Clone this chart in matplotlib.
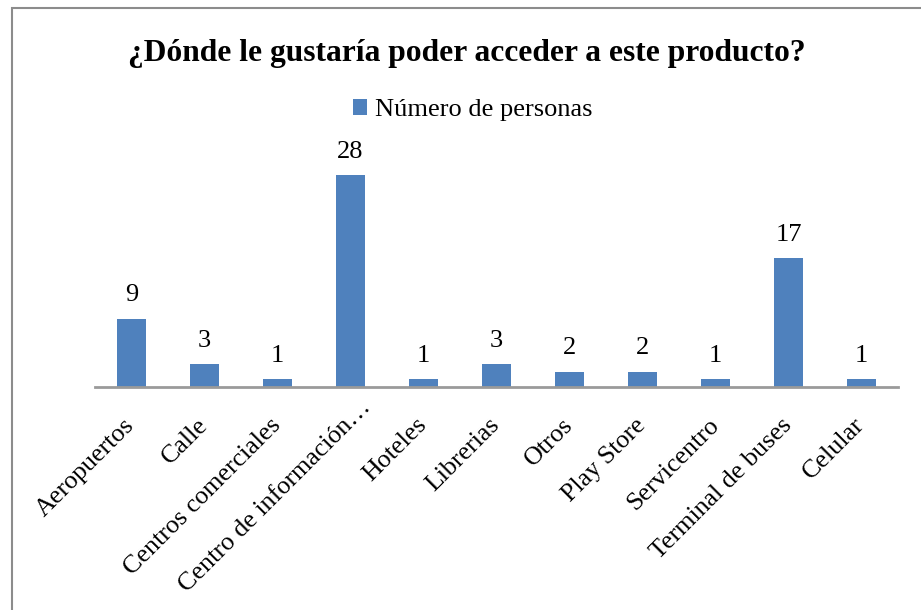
import matplotlib
matplotlib.use("Agg")
import matplotlib.pyplot as plt
from matplotlib.patches import Rectangle
from matplotlib.transforms import ScaledTranslation
import math

categories = ["Aeropuertos", "Calle", "Centros comerciales", "Centro de información…",
              "Hoteles", "Librerias", "Otros", "Play Store", "Servicentro",
              "Terminal de buses", "Celular"]
values = [9, 3, 1, 28, 1, 3, 2, 2, 1, 17, 1]
series_name = "Número de personas"
title = "¿Dónde le gustaría poder acceder a este producto?"

plt.rcParams['font.family'] = ['Liberation Serif', 'DejaVu Serif']

fig = plt.figure(figsize=(9.21, 6.10), dpi=100)
fig.patches.append(Rectangle((12/921, -0.1), 1.0, 1 - 8/610 + 0.1, transform=fig.transFigure,
                             fill=False, edgecolor='#8c8c8c', linewidth=1.5))

ax = fig.add_axes([95/921, 1 - 387/610, (898-95)/921, (387-160)/610])
x = list(range(len(categories)))
bars = ax.bar(x, values, width=0.4, color='#4F81BD', label=series_name)
ax.set_xlim(-0.5, len(categories) - 0.5)
ax.set_ylim(0, 30)
for xi, v in zip(x, values):
    ax.annotate(str(v), (xi, v), xytext=(0, 9), textcoords='offset points',
                ha='center', va='bottom', fontsize=19)

ax.set_xticks(x)
ax.set_xticklabels([])
ax.tick_params(axis='x', length=0)
fs = 18.7
for xi, name in zip(x, categories):
    dx, dy = -8, -27
    if name.endswith("…"):
        # Excel lets the truncation ellipsis overflow past the anchor point
        w = fs * 100 / 72 * 0.95
        dx += w * math.cos(math.radians(45))
        dy += w * math.sin(math.radians(45))
    tr = ax.get_xaxis_transform() + ScaledTranslation(dx/100, dy/100, fig.dpi_scale_trans)
    ax.text(xi, 0, name, transform=tr, rotation=45, ha='right', va='top',
            rotation_mode='anchor', fontsize=fs, clip_on=False)
ax.set_yticks([])
for s in ['top', 'right', 'left']:
    ax.spines[s].set_visible(False)
ax.spines['bottom'].set_color('#9a9a9a')
ax.spines['bottom'].set_linewidth(2)

fig.text(0.5 + 6/921, 1 - 54/610, title, ha='center', va='center', fontsize=22.7, fontweight='bold')
fig.legend(handles=[bars], labels=[series_name], loc='center',
           bbox_to_anchor=(0.5 + 12/921, 1 - 110/610),
           frameon=False, fontsize=19, handlelength=0.55, handleheight=0.55, handletextpad=0.3)

fig.savefig("out.png", dpi=100)
